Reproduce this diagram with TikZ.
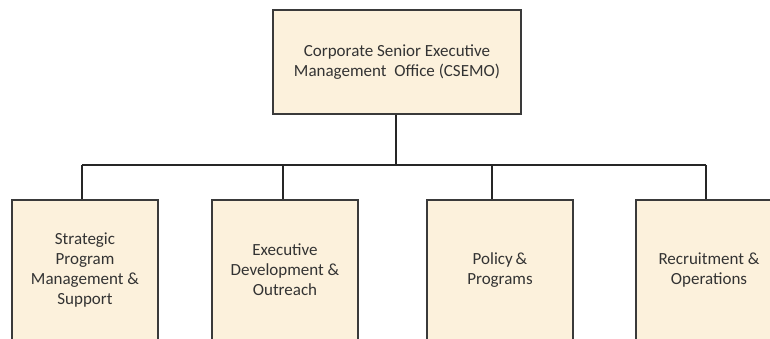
\documentclass[tikz,border=0pt]{standalone}
\usepackage{fontspec}
\setmainfont{Carlito}
\definecolor{parch}{HTML}{FCF1DC}
\definecolor{edge}{HTML}{3A3A3A}
\begin{document}
\begin{tikzpicture}[x=1pt,y=-1pt,
  box/.style={draw=edge, line width=1.3pt, fill=parch, align=center, inner sep=0pt,
    font=\fontsize{17}{20}\selectfont, text=black!80},
  conn/.style={draw=black!85, line width=1.2pt}]
\useasboundingbox (0,0) rectangle (770,339);
\clip (0,0) rectangle (770,339);
\node[box, minimum width=248, minimum height=104] (top) at (397,62)
  {Corporate Senior Executive\\Management\ \ Office (CSEMO)};
\node[box, minimum width=146, minimum height=140] (b1) at (85,270)
  {Strategic\\Program\\Management \&\\Support};
\node[box, minimum width=146, minimum height=140] (b2) at (285,270)
  {Executive\\Development \&\\Outreach};
\node[box, minimum width=146, minimum height=140] (b3) at (500,270)
  {Policy\,\&\\Programs};
\node[box, minimum width=146, minimum height=140] (b4) at (709,270)
  {Recruitment \&\\Operations};
\coordinate (j) at (396,165);
\coordinate (h1) at (82,165);
\coordinate (h2) at (283,165);
\coordinate (h3) at (492,165);
\coordinate (h4) at (706,165);
\draw[conn] (j |- top.south) -- (j);
\draw[conn] (h1) -- (h4);
\draw[conn] (h1) -- (h1 |- b1.north);
\draw[conn] (h2) -- (h2 |- b2.north);
\draw[conn] (h3) -- (h3 |- b3.north);
\draw[conn] (h4) -- (h4 |- b4.north);
\end{tikzpicture}
\end{document}
